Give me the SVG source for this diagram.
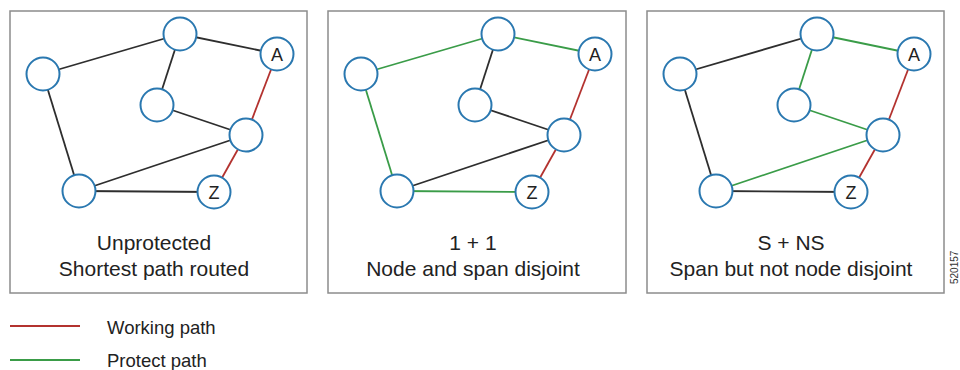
<svg xmlns="http://www.w3.org/2000/svg" width="960" height="370" viewBox="0 0 960 370">
<style>
.box{fill:#fff;stroke:#8c8c8c;stroke-width:1.5}
.n{fill:#fff;stroke:#2a78b0;stroke-width:2}
.e{stroke-width:1.8;fill:none}
.k{stroke:#2e2e2e}
.r{stroke:#b3322f}
.g{stroke:#3a9c48}
.lbl{font-family:"Liberation Sans",Arial,sans-serif;font-size:18px;fill:#222;text-anchor:middle}
.cap{font-family:"Liberation Sans",Arial,sans-serif;font-size:21px;fill:#222;text-anchor:middle}
.leg{font-family:"Liberation Sans",Arial,sans-serif;font-size:18.5px;fill:#222}
</style>
<rect x="0" y="0" width="960" height="370" fill="#fff"/>

<!-- Panel 1 -->
<g id="panel1">
<rect class="box" x="10" y="11" width="297" height="282"/>
<g id="p1-connectors">
<line class="e k" x1="180" y1="34" x2="43" y2="74"/>
<line class="e k" x1="180" y1="34" x2="277" y2="54"/>
<line class="e k" x1="180" y1="34" x2="157" y2="105"/>
<line class="e k" x1="43" y1="74" x2="79" y2="191"/>
<line class="e k" x1="157" y1="105" x2="246" y2="135"/>
<line class="e k" x1="246" y1="135" x2="79" y2="191"/>
<line class="e k" x1="79" y1="191" x2="214" y2="192"/>
<line class="e r" x1="277" y1="54" x2="246" y2="135"/>
<line class="e r" x1="246" y1="135" x2="214" y2="192"/>
</g>
<g id="p1-top"><circle class="n" cx="180" cy="34" r="16.5"/></g>
<g id="p1-A"><circle class="n" cx="277" cy="54" r="16.5"/><text class="lbl" x="277" y="60.5">A</text></g>
<g id="p1-left"><circle class="n" cx="43" cy="74" r="16.5"/></g>
<g id="p1-mid"><circle class="n" cx="157" cy="105" r="16.5"/></g>
<g id="p1-right"><circle class="n" cx="246" cy="135" r="16.5"/></g>
<g id="p1-bottom"><circle class="n" cx="79" cy="191" r="16.5"/></g>
<g id="p1-Z"><circle class="n" cx="214" cy="192" r="16.5"/><text class="lbl" x="214" y="198.5">Z</text></g>
<text class="cap" x="154" y="250">Unprotected</text>
<text class="cap" x="154" y="276">Shortest path routed</text>
</g>

<!-- Panel 2 -->
<g id="panel2" transform="translate(318,0)">
<rect class="box" x="10" y="11" width="298" height="282"/>
<g id="p2-connectors">
<line class="e g" x1="180" y1="34" x2="43" y2="74"/>
<line class="e g" x1="180" y1="34" x2="277" y2="54"/>
<line class="e k" x1="180" y1="34" x2="157" y2="105"/>
<line class="e g" x1="43" y1="74" x2="79" y2="191"/>
<line class="e k" x1="157" y1="105" x2="246" y2="135"/>
<line class="e k" x1="246" y1="135" x2="79" y2="191"/>
<line class="e g" x1="79" y1="191" x2="214" y2="192"/>
<line class="e r" x1="277" y1="54" x2="246" y2="135"/>
<line class="e r" x1="246" y1="135" x2="214" y2="192"/>
</g>
<g id="p2-top"><circle class="n" cx="180" cy="34" r="16.5"/></g>
<g id="p2-A"><circle class="n" cx="277" cy="54" r="16.5"/><text class="lbl" x="277" y="60.5">A</text></g>
<g id="p2-left"><circle class="n" cx="43" cy="74" r="16.5"/></g>
<g id="p2-mid"><circle class="n" cx="157" cy="105" r="16.5"/></g>
<g id="p2-right"><circle class="n" cx="246" cy="135" r="16.5"/></g>
<g id="p2-bottom"><circle class="n" cx="79" cy="191" r="16.5"/></g>
<g id="p2-Z"><circle class="n" cx="214" cy="192" r="16.5"/><text class="lbl" x="214" y="198.5">Z</text></g>
<text class="cap" x="155" y="250">1 + 1</text>
<text class="cap" x="155" y="276">Node and span disjoint</text>
</g>

<!-- Panel 3 -->
<g id="panel3" transform="translate(637,0)">
<rect class="box" x="10" y="11" width="297" height="282"/>
<g id="p3-connectors">
<line class="e k" x1="180" y1="34" x2="43" y2="74"/>
<line class="e g" x1="180" y1="34" x2="277" y2="54"/>
<line class="e g" x1="180" y1="34" x2="157" y2="105"/>
<line class="e k" x1="43" y1="74" x2="79" y2="191"/>
<line class="e g" x1="157" y1="105" x2="246" y2="135"/>
<line class="e g" x1="246" y1="135" x2="79" y2="191"/>
<line class="e k" x1="79" y1="191" x2="214" y2="192"/>
<line class="e r" x1="277" y1="54" x2="246" y2="135"/>
<line class="e r" x1="246" y1="135" x2="214" y2="192"/>
</g>
<g id="p3-top"><circle class="n" cx="180" cy="34" r="16.5"/></g>
<g id="p3-A"><circle class="n" cx="277" cy="54" r="16.5"/><text class="lbl" x="277" y="60.5">A</text></g>
<g id="p3-left"><circle class="n" cx="43" cy="74" r="16.5"/></g>
<g id="p3-mid"><circle class="n" cx="157" cy="105" r="16.5"/></g>
<g id="p3-right"><circle class="n" cx="246" cy="135" r="16.5"/></g>
<g id="p3-bottom"><circle class="n" cx="79" cy="191" r="16.5"/></g>
<g id="p3-Z"><circle class="n" cx="214" cy="192" r="16.5"/><text class="lbl" x="214" y="198.5">Z</text></g>
<text class="cap" x="154" y="250">S + NS</text>
<text class="cap" x="154" y="276">Span but not node disjoint</text>
</g>

<!-- Legend -->
<g id="legend">
<line class="e r" x1="10" y1="326" x2="80" y2="326"/>
<text class="leg" x="107" y="334">Working path</text>
<line class="e g" x1="10" y1="360" x2="80" y2="360"/>
<text class="leg" x="107" y="367">Protect path</text>
</g>

<text font-family="Liberation Sans, Arial, sans-serif" font-size="10" fill="#333" transform="translate(958,284) rotate(-90)">520157</text>
</svg>
